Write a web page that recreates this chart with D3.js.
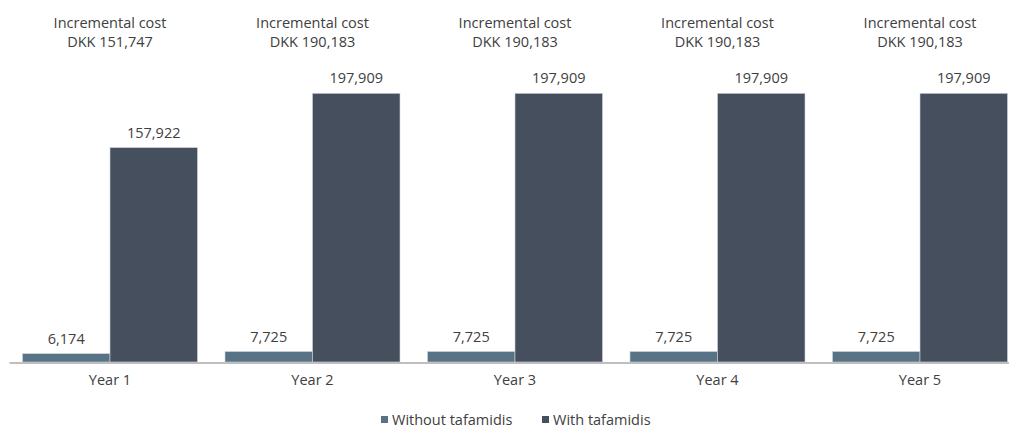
<!DOCTYPE html>
<html><head><meta charset="utf-8">
<script src="https://d3js.org/d3.v7.min.js"></script>
<style>body{margin:0;background:#fff}text{font-family:"Open Sans",sans-serif;fill:#404040}</style>
</head><body>
<svg id="c" width="1009" height="428"></svg>
<script>
const years = ["Year 1","Year 2","Year 3","Year 4","Year 5"];
const seriesNames = ["Without tafamidis","With tafamidis"];
const withoutVals = [6174,7725,7725,7725,7725];
const withVals = [157922,197909,197909,197909,197909];
const incremental = [151747,190183,190183,190183,190183];
const colors = ["#587386","#454f5d"];
const FS = 14.5;

const svg = d3.select("#c");
const baseY = 362;
const x = d3.scaleBand().domain(years).range([8.75, 1021.25]).paddingInner(0).paddingOuter(0);
const inner = d3.scaleBand().domain(seriesNames).range([13.75, x.bandwidth()-13.75]);
const y = d3.scaleLinear().domain([0,197909]).range([baseY, 93.3]);
const fmt = d3.format(",");

const g = svg.append("g");
years.forEach((yr,i)=>{
  const vals=[withoutVals[i],withVals[i]];
  vals.forEach((v,j)=>{
    const bx = x(yr)+inner(seriesNames[j]);
    g.append("rect").attr("x",bx).attr("y",y(v)).attr("width",inner.bandwidth()).attr("height",baseY-y(v))
      .attr("fill",colors[j]).attr("stroke","#d0d5da").attr("stroke-width",0.6);
    g.append("text").attr("x",bx+inner.bandwidth()/2).attr("y",y(v)-10).attr("text-anchor","middle")
      .attr("font-size",FS).text(fmt(v));
  });
  const cx = x(yr)+x.bandwidth()/2;
  g.append("text").attr("x",cx).attr("y",28).attr("text-anchor","middle").attr("font-size",FS).text("Incremental cost");
  g.append("text").attr("x",cx).attr("y",47).attr("text-anchor","middle").attr("font-size",FS).text("DKK "+fmt(incremental[i]));
});
// axis
const axis = d3.axisBottom(x).tickSize(0).tickPadding(12);
const ag = svg.append("g").attr("transform",`translate(0,${baseY+1})`).call(axis);
ag.select(".domain").attr("stroke","#bfbfbf").attr("stroke-width",2).attr("d","M9.5,0H1009");
ag.selectAll("text").attr("font-size",FS).attr("font-family","Open Sans").attr("fill","#404040");

// legend
const leg = svg.append("g");
const items=[{x:381,tx:392},{x:542,tx:553}];
seriesNames.forEach((s,j)=>{
  leg.append("rect").attr("x",items[j].x).attr("y",416).attr("width",7).attr("height",7).attr("fill",colors[j]);
  leg.append("text").attr("x",items[j].tx).attr("y",425).attr("font-size",FS).text(s);
});
</script>
</body></html>
